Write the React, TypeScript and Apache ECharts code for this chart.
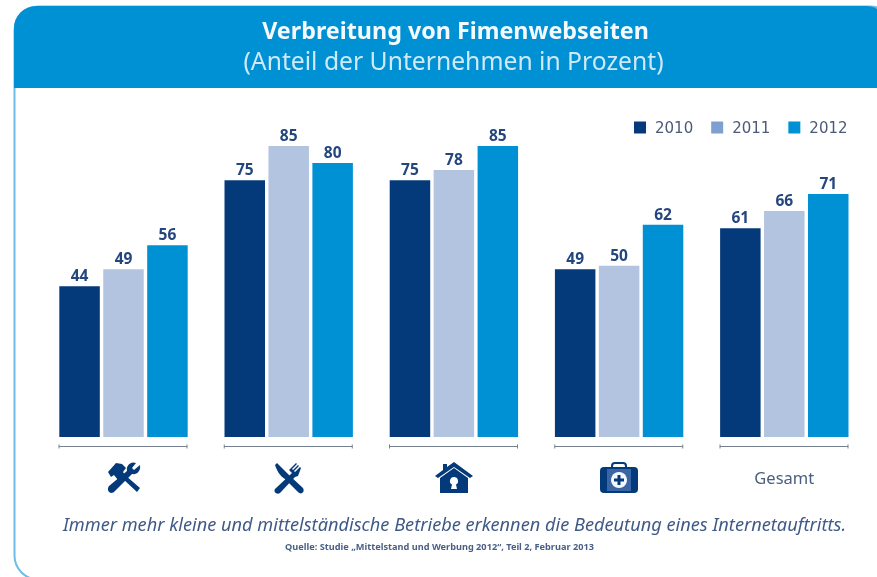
import React, { useEffect, useRef } from "react";
import * as echarts from "echarts";

const categories = ["Handwerk", "Gastronomie", "Immobilien", "Gesundheit", "Gesamt"];
const years = ["2010", "2011", "2012"];
const values2010 = [44, 75, 75, 49, 61];
const values2011 = [49, 85, 78, 50, 66];
const values2012 = [56, 80, 85, 62, 71];
const titleText = "Verbreitung von Fimenwebseiten";
const subtitleText = "(Anteil der Unternehmen in Prozent)";
const taglineText = "Immer mehr kleine und mittelständische Betriebe erkennen die Bedeutung eines Internetauftritts.";
const sourceText = "Quelle: Studie „Mittelstand und Werbung 2012“, Teil 2, Februar 2013";

const DARK = "#053a7a";
const LIGHT = "#b3c4e0";
const BLUE = "#0090d4";
const barColors = [DARK, LIGHT, BLUE];
const legendColors = [DARK, "#7f9fd0", BLUE];
const seriesValues = [values2010, values2011, values2012];

const reg = (name: string, d: string) => echarts.graphic.registerShape(name, (echarts.graphic as any).extendPath(d, {}));
reg("iconWrench", "M33 3 L27 8 L25 6 L29 1 C24 -1 19 3 20 9 L2 24 C0 27 1 30 4 31 C6 31 7 30 8 29 L25 12 C30 13 34 9 33 3 Z");
reg("iconHammer", "M1 9 L9 0 L15 1 L19 5 L16 9 L18 12 L33 25 L30 29 L15 15 L11 17 L7 12 L4 14 Z");
reg("iconKnife", "M1 2 L3 0 L16 13 L29 25 C30 27 30 29 28 30 C27 31 25 30 24 29 L11 16 C6 13 3 8 1 2 Z");
reg("iconFork", "M1 26 L18 10 L15 7 L22 0 L23 1 L18 6 L19 7 L24 2 L25 3 L20 8 L21 9 L26 4 L27 5 L24 13 L21 14 L6 30 C3 32 -1 29 1 26 Z");
reg("iconRoof", "M0 15 L8 9 L8 3 L12 3 L12 6 L19 1 L38 15 L35 17 L19 6 L3 17 Z");
reg("iconBody", "M5 17 L19 7 L33 17 L33 32 L5 32 Z M19 16 A4 4 0 0 0 17 23.5 L16 28 L22 28 L21 23.5 A4 4 0 0 0 19 16 Z");

const shape = (type: string, x: number, y: number) => ({ type, x, y, silent: true, style: { fill: DARK } });

export default function App() {
  const ref = useRef<HTMLDivElement>(null);
  useEffect(() => {
    document.body.style.margin = "0";
    const chart = echarts.init(ref.current!, null, { renderer: "svg" });
    const bracket = (i: number) => {
      const l = 59 + i * 165.25;
      const r = l + 128;
      return [
        { type: "line", silent: true, shape: { x1: l, y1: 446.5, x2: r, y2: 446.5 }, style: { stroke: "#75808f", lineWidth: 1.2 } },
        { type: "line", silent: true, shape: { x1: l, y1: 444.5, x2: l, y2: 448.5 }, style: { stroke: "#75808f", lineWidth: 1 } },
        { type: "line", silent: true, shape: { x1: r, y1: 444.5, x2: r, y2: 448.5 }, style: { stroke: "#75808f", lineWidth: 1 } },
      ];
    };
    chart.setOption({
      animation: false,
      backgroundColor: "#ffffff",
      title: [
        { text: titleText, left: 450.5, top: 13, textAlign: "center", textStyle: { fontFamily: "Noto Sans", fontSize: 23.3, fontWeight: "bold", color: "#f4fafd" } },
        { text: subtitleText, left: 448.5, top: 43, textAlign: "center", textStyle: { fontFamily: "Noto Sans", fontSize: 24.7, fontWeight: "normal", color: "#cfe9f7" } },
        { text: taglineText, left: 449.5, top: 510, textAlign: "center", textStyle: { fontFamily: "Noto Sans", fontSize: 18.2, fontStyle: "italic", fontWeight: "normal", color: "#3f5a86" } },
        { text: sourceText, left: 434.5, top: 537, textAlign: "center", textStyle: { fontFamily: "Noto Sans", fontSize: 9.2, fontWeight: "bold", color: "#4a5f85" } },
      ],
      legend: {
        left: 634,
        top: 120,
        padding: 0,
        itemWidth: 12,
        itemHeight: 12,
        itemGap: 18,
        icon: "rect",
        textStyle: { fontFamily: "DejaVu Sans", fontSize: 15, color: "#4c5a78", padding: [0, 0, 0, 4] },
        data: years.map((name, i) => ({ name, itemStyle: { color: legendColors[i] } })),
      },
      grid: { left: 40.9, top: 94.6, width: 826, height: 342.4 },
      xAxis: {
        type: "category",
        data: categories,
        axisLine: { show: false },
        axisTick: { show: false },
        axisLabel: {
          margin: 32,
          fontFamily: "Noto Sans",
          fontSize: 16.5,
          color: "#4a5f7d",
          interval: 0,
          formatter: (v: string) => (v === "Gesamt" ? v : ""),
        },
      },
      yAxis: { type: "value", min: 0, max: 100, show: false },
      series: years.map((name, i) => ({
        name,
        type: "bar",
        barWidth: 40.5,
        barGap: "8.5%",
        data: seriesValues[i],
        itemStyle: { color: barColors[i] },
        label: {
          show: true,
          position: "top",
          distance: 3,
          fontFamily: "Noto Sans",
          fontSize: 15.5,
          fontWeight: "bold",
          color: "#24467e",
        },
      })),
      graphic: [
        { type: "rect", silent: true, z: -10, shape: { x: 14.5, y: 6.5, width: 880, height: 573, r: 24 }, style: { fill: "#fff", stroke: "#6dbde6", lineWidth: 2 } },
        { type: "rect", silent: true, z: -9, shape: { x: 14, y: 6, width: 873, height: 82, r: [22, 20, 0, 0] }, style: { fill: BLUE } },
        ...[0, 1, 2, 3, 4].flatMap(bracket),
        shape("iconWrench", 107, 462),
        shape("iconHammer", 107, 463),
        shape("iconKnife", 274, 463),
        shape("iconFork", 274, 463),
        shape("iconRoof", 435, 461),
        shape("iconBody", 435, 461),
        { type: "rect", silent: true, shape: { x: 612, y: 463, width: 14, height: 8, r: 3 }, style: { fill: "none", stroke: DARK, lineWidth: 2 } },
        { type: "rect", silent: true, shape: { x: 600, y: 467, width: 38, height: 26, r: 4 }, style: { fill: DARK } },
        { type: "rect", silent: true, shape: { x: 607, y: 469, width: 24, height: 22 }, style: { fill: "#3a66a6" } },
        { type: "circle", silent: true, shape: { cx: 619, cy: 480, r: 8 }, style: { fill: "#f4f7fb" } },
        { type: "rect", silent: true, shape: { x: 617.5, y: 475, width: 3, height: 10 }, style: { fill: DARK } },
        { type: "rect", silent: true, shape: { x: 614, y: 478.5, width: 10, height: 3 }, style: { fill: DARK } },
      ],
    });
    return () => chart.dispose();
  }, []);
  return <div ref={ref} style={{ position: "absolute", left: 0, top: 0, width: 877, height: 577, filter: "blur(0.4px)" }} />;
}
